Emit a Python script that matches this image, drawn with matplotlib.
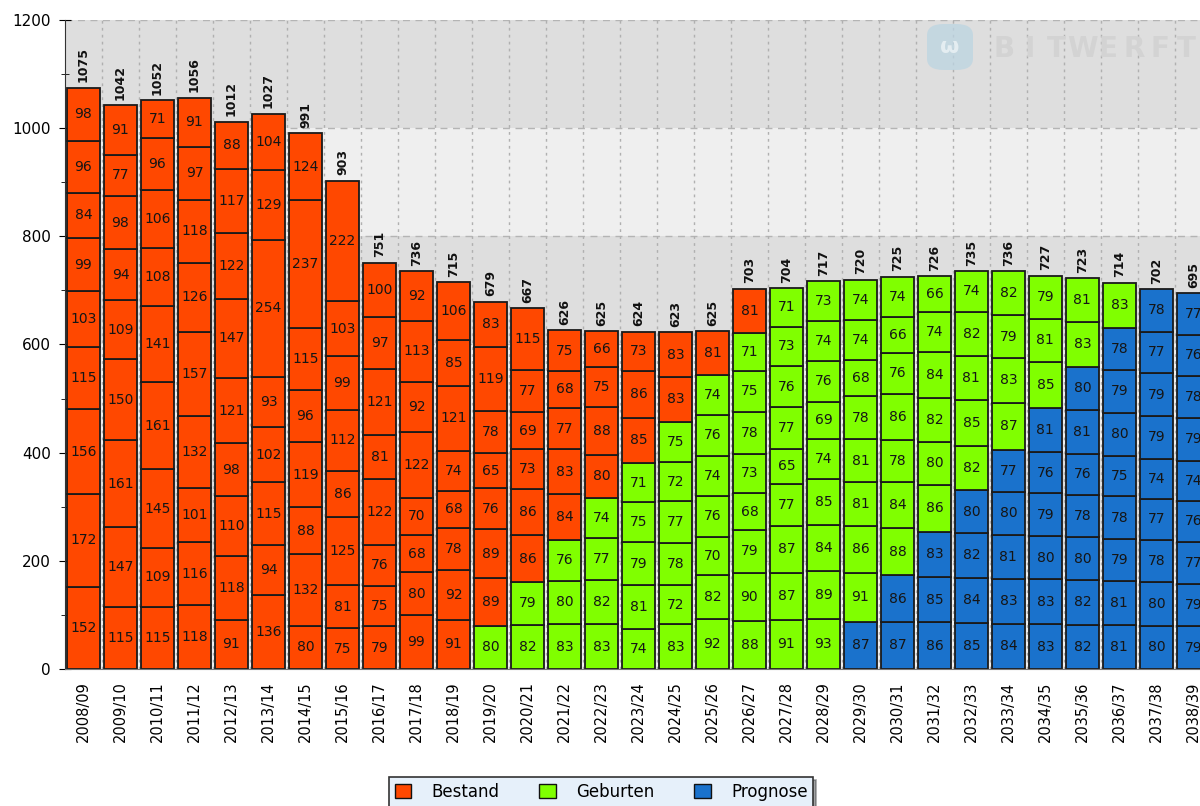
import matplotlib
matplotlib.use("Agg")
import matplotlib.pyplot as plt
from matplotlib.patches import Patch, FancyBboxPatch
from matplotlib.ticker import MultipleLocator
import numpy as np

# school years
years = ["2008/09", "2009/10", "2010/11", "2011/12", "2012/13", "2013/14",
         "2014/15", "2015/16", "2016/17", "2017/18", "2018/19", "2019/20",
         "2020/21", "2021/22", "2022/23", "2023/24", "2024/25", "2025/26",
         "2026/27", "2027/28", "2028/29", "2029/30", "2030/31", "2031/32",
         "2032/33", "2033/34", "2034/35", "2035/36", "2036/37", "2037/38",
         "2038/39"]

# stack segments per year, bottom to top
segments = [
    [152, 172, 156, 115, 103, 99, 84, 96, 98],
    [115, 147, 161, 150, 109, 94, 98, 77, 91],
    [115, 109, 145, 161, 141, 108, 106, 96, 71],
    [118, 116, 101, 132, 157, 126, 118, 97, 91],
    [91, 118, 110, 98, 121, 147, 122, 117, 88],
    [136, 94, 115, 102, 93, 254, 129, 104],
    [80, 132, 88, 119, 96, 115, 237, 124],
    [75, 81, 125, 86, 112, 99, 103, 222],
    [79, 75, 76, 122, 81, 121, 97, 100],
    [99, 80, 68, 70, 122, 92, 113, 92],
    [91, 92, 78, 68, 74, 121, 85, 106],
    [80, 89, 89, 76, 65, 78, 119, 83],
    [82, 79, 86, 86, 73, 69, 77, 115],
    [83, 80, 76, 84, 83, 77, 68, 75],
    [83, 82, 77, 74, 80, 88, 75, 66],
    [74, 81, 79, 75, 71, 85, 86, 73],
    [83, 72, 78, 77, 72, 75, 83, 83],
    [92, 82, 70, 76, 74, 76, 74, 81],
    [88, 90, 79, 68, 73, 78, 75, 71, 81],
    [91, 87, 87, 77, 65, 77, 76, 73, 71],
    [93, 89, 84, 85, 74, 69, 76, 74, 73],
    [87, 91, 86, 81, 81, 78, 68, 74, 74],
    [87, 86, 88, 84, 78, 86, 76, 66, 74],
    [86, 85, 83, 86, 80, 82, 84, 74, 66],
    [85, 84, 82, 80, 82, 85, 81, 82, 74],
    [84, 83, 81, 80, 77, 87, 83, 79, 82],
    [83, 83, 80, 79, 76, 81, 85, 81, 79],
    [82, 82, 80, 78, 76, 81, 80, 83, 81],
    [81, 81, 79, 78, 75, 80, 79, 78, 83],
    [80, 80, 78, 77, 74, 79, 79, 77, 78],
    [79, 79, 77, 76, 74, 79, 78, 76, 77],
]

# how many of the bottom segments are Prognose, then Geburten (rest = Bestand)
n_prognose = [0] * 21 + [1, 2, 3, 4, 5, 6, 7, 8, 9, 9]
n_geburten = [0] * 11 + [1, 2, 3, 4, 5, 6, 7, 8, 9, 9, 8, 7, 6, 5, 4, 3, 2, 1, 0, 0]

series = ["Bestand", "Geburten", "Prognose"]
c_bestand, c_geburten, c_prognose = "#ff4800", "#80ff00", "#1a72cc"

fig = plt.figure(figsize=(12, 8.06), dpi=100)
ax = fig.add_axes([65 / 1200, 137 / 806, 1135 / 1200, 649 / 806])

x = np.arange(len(years))
ax.set_xlim(-0.5, 30.18)
ax.set_ylim(0, 1200)

# background bands
for i, lo in enumerate(range(0, 1200, 200)):
    ax.axhspan(lo, lo + 200, color="#efefef" if i % 2 == 0 else "#dedede", zorder=0, lw=0)
for yv in range(200, 1201, 200):
    ax.axhline(yv, color="#b4b4b4", lw=1, ls=(0, (5, 4)), zorder=0.5)
for xv in x[:-1] + 0.5:
    ax.axvline(xv, color="#b0b0b0", lw=1, ls=(0, (2, 3)), zorder=0.5)

# watermark
fig.patches.append(FancyBboxPatch((927 / 1200, 736 / 806), 46 / 1200, 46 / 806,
                                  boxstyle="round,pad=0,rounding_size=0.014",
                                  transform=fig.transFigure, fc="#bcd5e2",
                                  ec="none", alpha=0.75, zorder=0.6))
fig.text(950 / 1200, 759 / 806, "ω", fontsize=16, color="#e4edf1", ha="center",
         va="center", fontweight="bold", zorder=0.7)
for i, ch in enumerate("BITWERFT"):
    fig.text((1004 + i * 26) / 1200, 757 / 806, ch, fontsize=20, color="#d3d3d3",
             ha="center", va="center", fontweight="bold", zorder=0.6)

width = 0.88
totals = [sum(s) for s in segments]
bottoms = np.zeros(len(years))
nlev = max(len(s) for s in segments)
for k in range(nlev):
    idx = [i for i, s in enumerate(segments) if k < len(s)]
    heights = [segments[i][k] for i in idx]
    cols = []
    for i in idx:
        if k < n_prognose[i]:
            cols.append(c_prognose)
        elif k < n_prognose[i] + n_geburten[i]:
            cols.append(c_geburten)
        else:
            cols.append(c_bestand)
    ax.bar(x[idx], heights, width=width, bottom=bottoms[idx], color=cols,
           edgecolor="#1a1a1a", linewidth=1.3, zorder=2)
    for i, h in zip(idx, heights):
        ax.text(x[i], bottoms[i] + h / 2, str(h), ha="center", va="center",
                fontsize=10, color="#151515", zorder=3, clip_on=True)
    bottoms[idx] += heights

for i, t in enumerate(totals):
    ax.text(x[i], t + 10, str(t), rotation=90, ha="center", va="bottom",
            fontsize=9, fontweight="bold", color="#111111", zorder=3, clip_on=True)

ax.set_xticks(x)
ax.set_xticklabels(years, rotation=90, fontsize=10.5)
ax.tick_params(axis="x", length=0, pad=9)
ax.set_yticks(range(0, 1201, 200))
ax.yaxis.set_minor_locator(MultipleLocator(100))
ax.tick_params(axis="y", which="major", direction="inout", length=8, labelsize=11, pad=6)
ax.tick_params(axis="y", which="minor", direction="inout", length=6)

for side in ["top", "right"]:
    ax.spines[side].set_visible(False)
ax.spines["left"].set_color("#333333")
ax.spines["bottom"].set_color("#777777")

handles = [Patch(facecolor=c, edgecolor="#111111") for c in (c_bestand, c_geburten, c_prognose)]
leg = fig.legend(handles, series, loc="lower center", bbox_to_anchor=(0.501, -0.011),
                 ncol=3, fontsize=12, frameon=True, fancybox=False, shadow=True,
                 facecolor="#e6f0fa", edgecolor="#333333", handlelength=1.0,
                 handleheight=1.0, columnspacing=2.4, handletextpad=1.2,
                 borderpad=0.35)
leg.get_frame().set_linewidth(1.2)

fig.savefig("out.png", dpi=100)
